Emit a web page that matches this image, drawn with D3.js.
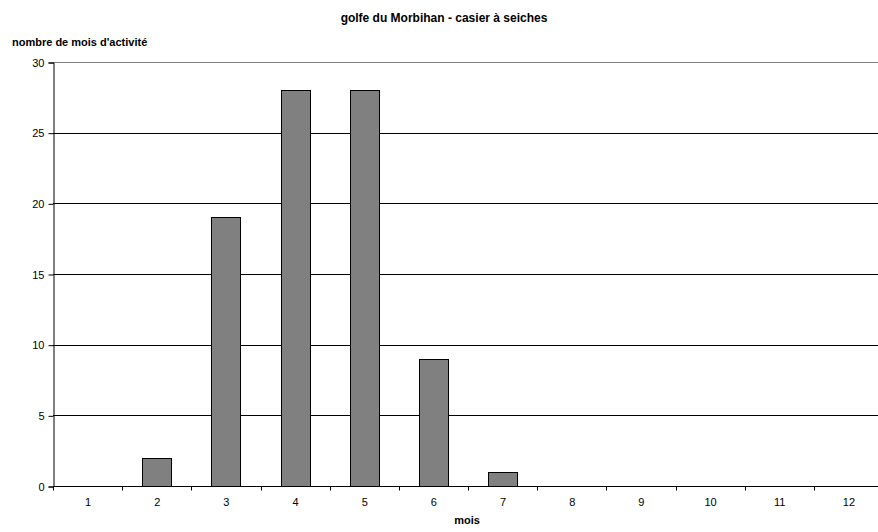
<!DOCTYPE html>
<html><head><meta charset="utf-8">
<script src="https://cdn.jsdelivr.net/npm/d3@7"></script>
<style>body{margin:0;background:#fff}svg{display:block;font-family:"Liberation Sans",Arial,sans-serif}</style>
</head><body><svg id="c" width="878" height="532"></svg>
<script>
const months = ["1","2","3","4","5","6","7","8","9","10","11","12"];
const values = [0,2,19,28,28,9,1,0,0,0,0,0];
const yTicks = [0,5,10,15,20,25,30];
const chartTitle = "golfe du Morbihan - casier à seiches";
const yTitle = "nombre de mois d'activité";
const xTitle = "mois";

const svg = d3.select("#c");
const L = 53, R = 883, T = 62, B = 486;
const x = d3.scaleBand().domain(months).range([L, R]).paddingInner(0).paddingOuter(0);
const y = d3.scaleLinear().domain([0, 30]).range([B, T]);
const bw = x.bandwidth() * 0.42;

// gridlines
svg.append("g").selectAll("line").data(yTicks.filter(d => d > 0)).join("line")
  .attr("x1", L).attr("x2", R)
  .attr("y1", d => Math.round(y(d)) + 0.5).attr("y2", d => Math.round(y(d)) + 0.5)
  .attr("stroke", d => d === 30 ? "#808080" : "#000").attr("stroke-width", 1);

// bars
svg.append("g").selectAll("rect").data(values.map((v, i) => ({m: months[i], v})).filter(d => d.v > 0)).join("rect")
  .attr("x", d => Math.round(x(d.m) + x.bandwidth() / 2 - bw / 2) + 0.5)
  .attr("width", Math.round(bw))
  .attr("y", d => Math.round(y(d.v)) + 0.5)
  .attr("height", d => Math.round(y(0)) - Math.round(y(d.v)))
  .attr("fill", "#808080").attr("stroke", "#000").attr("stroke-width", 1);

// y axis
const ya = svg.append("g").attr("transform", `translate(${L + 0.5},0.5)`)
  .call(d3.axisLeft(y).tickValues(yTicks).tickSize(5).tickPadding(4).tickFormat(d3.format("d")));
ya.select(".domain").attr("stroke", "#000");
ya.selectAll("text").attr("font-size", 11).attr("fill", "#000").attr("font-family", "Liberation Sans, Arial, sans-serif");

// x axis
const xa = svg.append("g").attr("transform", `translate(0.5,${Math.round(B) + 0.5})`)
  .call(d3.axisBottom(x).tickSize(0).tickPadding(12));
xa.select(".domain").attr("stroke", "#000").attr("d", `M${L},0H${R}`);
xa.selectAll("text").attr("font-size", 11).attr("fill", "#000").attr("font-family", "Liberation Sans, Arial, sans-serif");
xa.append("g").selectAll("line").data(months).join("line")
  .attr("x1", d => Math.round(x(d))).attr("x2", d => Math.round(x(d)))
  .attr("y1", 0).attr("y2", 4).attr("stroke", "#000");

// titles
svg.append("text").attr("x", 444).attr("y", 22).attr("text-anchor", "middle")
  .attr("font-size", 12).attr("font-weight", "bold").text(chartTitle);
svg.append("text").attr("x", 12).attr("y", 46)
  .attr("font-size", 11).attr("font-weight", "bold").text(yTitle);
svg.append("text").attr("x", 467).attr("y", 524).attr("text-anchor", "middle")
  .attr("font-size", 11).attr("font-weight", "bold").text(xTitle);
</script></body></html>
